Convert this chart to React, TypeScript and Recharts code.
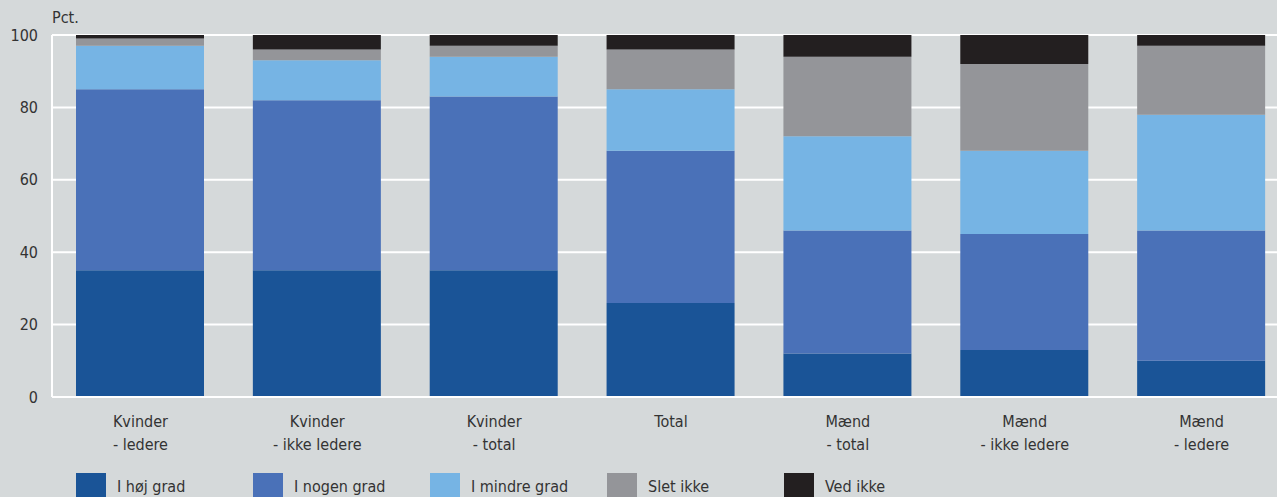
import React from "react";
import { BarChart, Bar, XAxis, YAxis, CartesianGrid } from "recharts";

const categories = [
  ["Kvinder", "- ledere"],
  ["Kvinder", "- ikke ledere"],
  ["Kvinder", "- total"],
  ["Total", ""],
  ["Mænd", "- total"],
  ["Mænd", "- ikke ledere"],
  ["Mænd", "- ledere"],
];
const hoejGrad = [35, 35, 35, 26, 12, 13, 10];
const nogenGrad = [50, 47, 48, 42, 34, 32, 36];
const mindreGrad = [12, 11, 11, 17, 26, 23, 32];
const sletIkke = [2, 3, 3, 11, 22, 24, 19];
const vedIkke = [1, 4, 3, 4, 6, 8, 3];
const yTicks = [0, 20, 40, 60, 80, 100];

const series = [
  { key: "hoej", name: "I høj grad", color: "#1a5497", values: hoejGrad },
  { key: "nogen", name: "I nogen grad", color: "#4a71b8", values: nogenGrad },
  { key: "mindre", name: "I mindre grad", color: "#76b4e4", values: mindreGrad },
  { key: "slet", name: "Slet ikke", color: "#949599", values: sletIkke },
  { key: "ved", name: "Ved ikke", color: "#231f20", values: vedIkke },
];

const data = categories.map((c, i) => {
  const row: any = { name: c.join("|") };
  series.forEach((s) => (row[s.key] = s.values[i]));
  return row;
});

const FONT = "'Liberation Sans Narrow', 'DejaVu Sans Condensed', sans-serif";

const XTick = ({ x, y, payload }: any) => {
  const [a, b] = String(payload.value).split("|");
  return (
    <text x={x} y={y} textAnchor="middle" fill="#333" fontSize={16} fontFamily={FONT}>
      <tspan x={x} dy={22}>{a}</tspan>
      <tspan x={x} dy={23}>{b}</tspan>
    </text>
  );
};

export default function App() {
  return (
    <div
      style={{
        position: "absolute",
        left: 0,
        top: 0,
        width: 1277,
        height: 497,
        overflow: "hidden",
        background: "#d5d9da",
        fontFamily: FONT,
      }}
    >
      <div style={{ position: "absolute", left: 52, top: 8, fontSize: 16, color: "#333" }}>Pct.</div>
      <BarChart
        width={1290}
        height={497}
        data={data}
        margin={{ top: 35, right: 0, left: 0, bottom: 0 }}
        barSize={128}
      >
        <CartesianGrid vertical={false} stroke="#ffffff" strokeWidth={2} />
        <XAxis
          dataKey="name"
          tick={<XTick />}
          tickLine={false}
          axisLine={{ stroke: "#ffffff", strokeWidth: 2 }}
          interval={0}
          height={100}
        />
        <YAxis
          domain={[0, 100]}
          ticks={yTicks}
          width={52}
          tickLine={false}
          tickSize={0}
          tickMargin={14}
          axisLine={{ stroke: "#ffffff", strokeWidth: 2 }}
          tick={{ fill: "#333", fontSize: 16, fontFamily: FONT }}
        />
        {series.map((s) => (
          <Bar key={s.key} dataKey={s.key} name={s.name} stackId="a" fill={s.color} isAnimationActive={false} />
        ))}
      </BarChart>
      {series.map((s, i) => (
        <div
          key={s.key}
          style={{ position: "absolute", left: 76 + i * 177, top: 473, display: "flex", alignItems: "flex-start" }}
        >
          <div style={{ width: 30, height: 24, background: s.color }} />
          <div style={{ marginLeft: 11, marginTop: 4, fontSize: 16, color: "#333" }}>{s.name}</div>
        </div>
      ))}
    </div>
  );
}
